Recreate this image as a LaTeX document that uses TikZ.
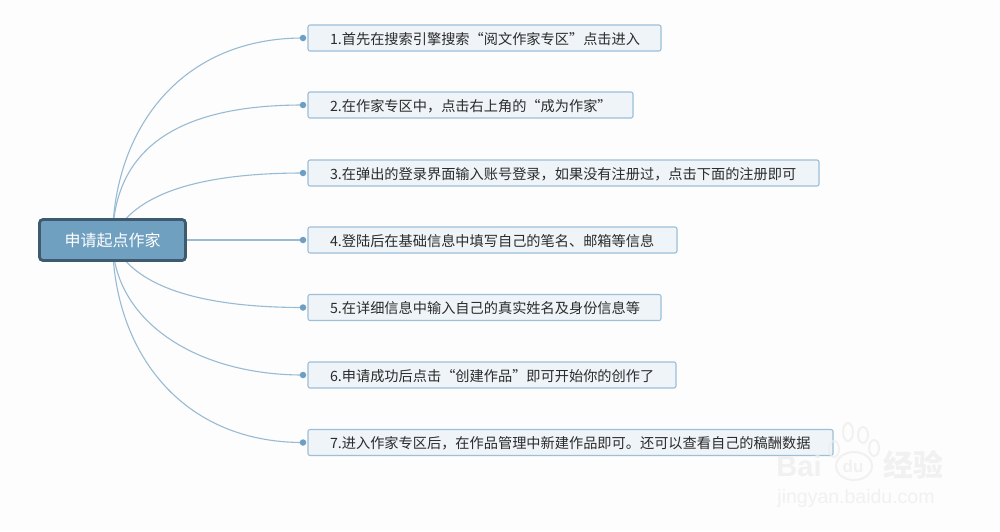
\documentclass[tikz,border=0pt]{standalone}
\usepackage{fontspec}
\setmainfont{Liberation Sans}
\newfontfamily\cjk{Noto Sans CJK SC}
\usetikzlibrary{backgrounds}
\pgfdeclarelayer{back}
\pgfsetlayers{back,background,main}
\definecolor{linec}{HTML}{98BBD3}
\definecolor{boxfill}{HTML}{EFF4F8}
\definecolor{boxline}{HTML}{9DBFD8}
\definecolor{rootfill}{HTML}{70A0C0}
\definecolor{rootline}{HTML}{3F5A6E}
\definecolor{dotc}{HTML}{6E9FC2}
\definecolor{txt}{HTML}{2B2B2B}
\definecolor{wm}{HTML}{EDEDED}
\definecolor{pagebg}{HTML}{FDFDFD}
\tikzset{
  x=1pt,y=-1pt,
  rootbox/.style={draw=rootline,line width=2.8pt,fill=rootfill,rounded corners=3.5pt,minimum width=146pt,minimum height=41pt,inner sep=0pt,text=white,font=\cjk\fontsize{16}{16}\selectfont},
  stepbox/.style={draw=boxline,line width=1.1pt,fill=boxfill,rounded corners=2pt,minimum height=26pt,inner sep=0pt,text=txt,font=\cjk\fontsize{14.2}{14.2}\selectfont},
  dotn/.style={circle,fill=dotc,minimum size=6.5pt,inner sep=0pt},
  conn/.style={draw=linec,line width=1.1pt},
  wmt/.style={text=wm,inner sep=0pt},
}
\begin{document}
\begin{tikzpicture}
\useasboundingbox (0,0) rectangle (1000,531);
\begin{pgfonlayer}{back}
\fill[pagebg] (0,0) rectangle (1000,531);
\end{pgfonlayer}
% nodes
\node[rootbox] (root) at (112.5,240) {申请起点作家};
\node[stepbox,minimum width=353pt] (s1) at (484.5,38) {};
\node[stepbox,minimum width=325pt] (s2) at (470.5,105) {};
\node[stepbox,minimum width=511pt] (s3) at (563.5,173) {};
\node[stepbox,minimum width=369pt] (s4) at (492.5,240) {};
\node[stepbox,minimum width=353pt] (s5) at (484.5,307.5) {};
\node[stepbox,minimum width=368pt] (s6) at (492,375) {};
\node[stepbox,minimum width=525pt] (s7) at (570.5,442.5) {};
\node[stepbox,draw=none,fill=none,anchor=west] (t1) at (329.5,39) {1.首先在搜索引擎搜索“阅文作家专区”点击进入};
\node[stepbox,draw=none,fill=none,anchor=west] (t2) at (329.5,106) {2.在作家专区中，点击右上角的“成为作家”};
\node[stepbox,draw=none,fill=none,anchor=west] (t3) at (329.5,174) {3.在弹出的登录界面输入账号登录，如果没有注册过，点击下面的注册即可};
\node[stepbox,draw=none,fill=none,anchor=west] (t4) at (329.5,241) {4.登陆后在基础信息中填写自己的笔名、邮箱等信息};
\node[stepbox,draw=none,fill=none,anchor=west] (t5) at (329.5,308) {5.在详细信息中输入自己的真实姓名及身份信息等};
\node[stepbox,draw=none,fill=none,anchor=west] (t6) at (329.5,376) {6.申请成功后点击“创建作品”即可开始你的创作了};
\node[stepbox,draw=none,fill=none,anchor=west] (t7) at (329.5,443) {7.进入作家专区后，在作品管理中新建作品即可。还可以查看自己的稿酬数据};
\node[dotn] (d1) at (303,38) {};
\node[dotn] (d2) at (303,105) {};
\node[dotn] (d3) at (303,173) {};
\node[dotn] (d4) at (303,240) {};
\node[dotn] (d5) at (303,307.5) {};
\node[dotn] (d6) at (303,375) {};
\node[dotn] (d7) at (303,442.5) {};
\begin{pgfonlayer}{background}
\draw[conn] (root.center) .. controls (113,130) and (180,38) .. (d1.center);
\draw[conn] (root.center) .. controls (113,140) and (190,105) .. (d2.center);
\draw[conn] (root.center) .. controls (128,200) and (185,173) .. (d3.center);
\draw[conn] (root.center) -- (d4.center);
\draw[conn] (root.center) .. controls (128,280) and (185,307.5) .. (d5.center);
\draw[conn] (root.center) .. controls (113,320) and (195,375) .. (d6.center);
\draw[conn] (root.center) .. controls (113,350) and (180,442.5) .. (d7.center);
\end{pgfonlayer}
% watermark, over the last step box
\begin{scope}[opacity=0.75]
\foreach \a/\b/\c/\d in {848/432/5/9,863/435/5/8,834/449/5/8,874/448/5/8}
  \draw[wm,line width=2pt] (\a,\b) ellipse [x radius=\c pt,y radius=\d pt];
\draw[wm,line width=2pt] (854,466) ellipse [x radius=18pt,y radius=14pt];
\node[wmt,font=\fontsize{29}{29}\selectfont\bfseries,anchor=center] (wma) at (799,466) {Bai};
\node[wmt,font=\fontsize{17}{17}\selectfont\bfseries] (wmb) at (853,466) {du};
\node[wmt,font=\cjk\fontsize{30}{30}\selectfont\bfseries] (wmc) at (913,465) {经验};
\node[wmt,font=\fontsize{19.5}{20}\selectfont] (wmd) at (856,498) {jingyan.baidu.com};
\end{scope}
\end{tikzpicture}
\end{document}
